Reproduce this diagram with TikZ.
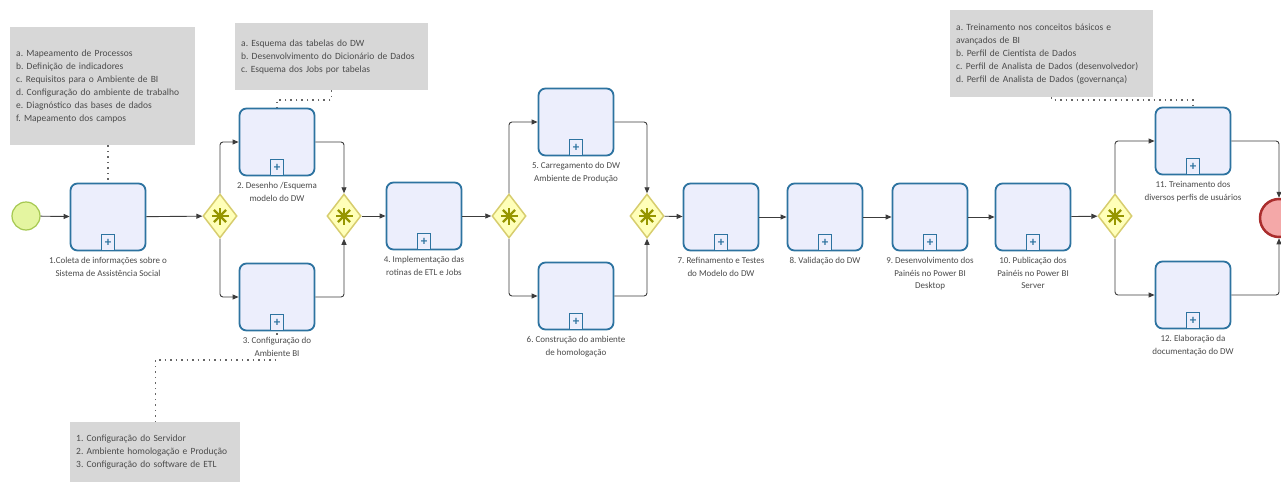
\documentclass[tikz,border=0pt]{standalone}
\usepackage{fontspec}
\setmainfont{Carlito}
\frenchspacing
\usetikzlibrary{positioning,shapes.geometric,arrows.meta,backgrounds}
\definecolor{taskblue}{RGB}{45,115,160}
\definecolor{taskfill}{RGB}{236,238,252}
\definecolor{gwfill}{RGB}{255,255,185}
\definecolor{gwdraw}{RGB}{215,205,110}
\definecolor{gwstar}{RGB}{150,150,0}
\definecolor{notefill}{RGB}{215,215,215}
\definecolor{txt}{RGB}{75,75,75}
\definecolor{flowc}{RGB}{60,60,60}
\definecolor{startfill}{RGB}{228,245,160}
\definecolor{startdraw}{RGB}{165,200,80}
\definecolor{stopfill}{RGB}{244,168,168}
\definecolor{stopdraw}{RGB}{170,45,45}
\tikzset{
  task/.style={draw=taskblue,line width=1.8pt,fill=taskfill,rounded corners=7pt,
    minimum width=75pt,minimum height=67pt,inner sep=0pt},
  subm/.style={draw=taskblue,line width=1pt,fill=taskfill,minimum width=13pt,
    minimum height=16pt,inner sep=0pt,anchor=south,text=taskblue,
    font=\fontsize{13}{13}\selectfont\bfseries},
  gateway/.style={diamond,draw=gwdraw,line width=1.5pt,fill=gwfill,
    minimum width=34pt,minimum height=44pt,inner sep=0pt},
  tasklabel/.style={font=\fontsize{9}{12.5}\selectfont,text=txt,align=center,
    fill=white,inner sep=1pt},
  note/.style={fill=notefill,font=\fontsize{9.5}{13}\selectfont,text=txt,
    align=left,anchor=north west,inner xsep=6pt},
  flow/.style={draw=flowc,line width=0.9pt,-{Triangle[length=6pt,width=5pt]},
    rounded corners=3pt},
  assoc/.style={draw=gray!80!black,line width=1.3pt,dash pattern=on 1.5pt off 4pt},
}
\begin{document}
\begin{tikzpicture}[x=1pt,y=-1pt]
  \useasboundingbox (0,0) rectangle (1281,487);
  \def \Tasks{
    t1/108/217/{1.Coleta de informações sobre o\\Sistema de Assistência Social},
    t2/277/142/{2. Desenho /Esquema\\modelo do DW},
    t3/277/297/{3. Configuração do\\Ambiente BI},
    t4/424/216/{4. Implementação das\\rotinas de ETL e Jobs},
    t5/576/122/{5. Carregamento do DW\\Ambiente de Produção},
    t6/576/296/{6. Construção do ambiente\\de homologação},
    t7/721/217/{7. Refinamento e Testes\\do Modelo do DW},
    t8/825/217/{8. Validação do DW},
    t9/930/217/{9. Desenvolvimento dos\\Painéis no Power BI\\Desktop},
    t10/1033/217/{10. Publicação dos\\Painéis no Power BI\\Server},
    t11/1193/141/{11. Treinamento dos\\diversos perfis de usuários},
    t12/1193/295/{12. Elaboração da\\documentação do DW}}
  \def \Gates{g1/220, g2/344, g3/509, g4/647, g5/1115}
  \def \Flows{start/t1, t1/g1, g2/t4, t4/g3, g4/t7, t7/t8, t8/t9, t9/t10, t10/g5}
  % events
  \node[circle,draw=startdraw,fill=startfill,line width=1.2pt,minimum size=28pt] (start) at (26,216) {};
  \node[circle,draw=stopdraw,fill=stopfill,line width=2.5pt,minimum size=38pt] (finish) at (1279,218) {};
  % tasks
  \foreach \id / \x / \y / \desc in \Tasks{
    \node[task] (\id) at (\x, \y) {};
    \node[subm] (\id m) at (\id.south) {+};
    \node[tasklabel, below=5pt of \id] (\id l) {\desc};
  }
  % gateways
  \foreach \id / \x in \Gates{
    \node[gateway] (\id) at (\x, 216) {};
    \foreach \a in {0,45,90,135}
      \draw[gwstar,line width=2.2pt] (\id.center) +(\a:8.5) -- +(\a+180:8.5);
  }
  % sequence flows
  \foreach \a / \b in \Flows{
    \path[flow] (\a) -- (\b);
  }
  \foreach \g / \t in {g1/t2, g1/t3, g3/t5, g3/t6, g5/t11, g5/t12}{
    \path[flow] (\g) |- (\t);
  }
  \foreach \t / \g in {t2/g2, t3/g2, t5/g4, t6/g4, t11/finish, t12/finish}{
    \path[flow] (\t) -| (\g);
  }
  % annotations
  \node[note,text width=173pt,minimum height=118pt] (nA) at (10,27)
    {a. Mapeamento de Processos\\b. Definição de indicadores\\c. Requisitos para o Ambiente de BI\\d. Configuração do ambiente de trabalho\\e. Diagnóstico das bases de dados\\f. Mapeamento dos campos};
  \node[note,text width=181pt,minimum height=67pt] (nB) at (235,23)
    {a. Esquema das tabelas do DW\\b. Desenvolvimento do Dicionário de Dados\\c. Esquema dos Jobs por tabelas};
  \node[note,text width=191pt,minimum height=87pt] (nC) at (950,10)
    {a. Treinamento nos conceitos básicos e\\avançados de BI\\b. Perfil de Cientista de Dados\\c. Perfil de Analista de Dados (desenvolvedor)\\d. Perfil de Analista de Dados (governança)};
  \node[note,text width=158pt,minimum height=60pt] (nD) at (70,422)
    {1. Configuração do Servidor\\2. Ambiente homologação e Produção\\3. Configuração do software de ETL};
  \coordinate (kB) at (277,100);
  \coordinate (kC) at (1193,100);
  \coordinate (kD) at (277,360);
  \begin{scope}[on background layer]
    \path[assoc] (nA.south -| t1.north) -- (t1.north);
    \path[assoc] (nB.south) |- (kB) -- (t2.north);
    \path[assoc] (nC.south) |- (kC) -- (t11.north);
    \path[assoc] (nD.north) |- (kD) -- (t3.south);
  \end{scope}
\end{tikzpicture}
\end{document}
